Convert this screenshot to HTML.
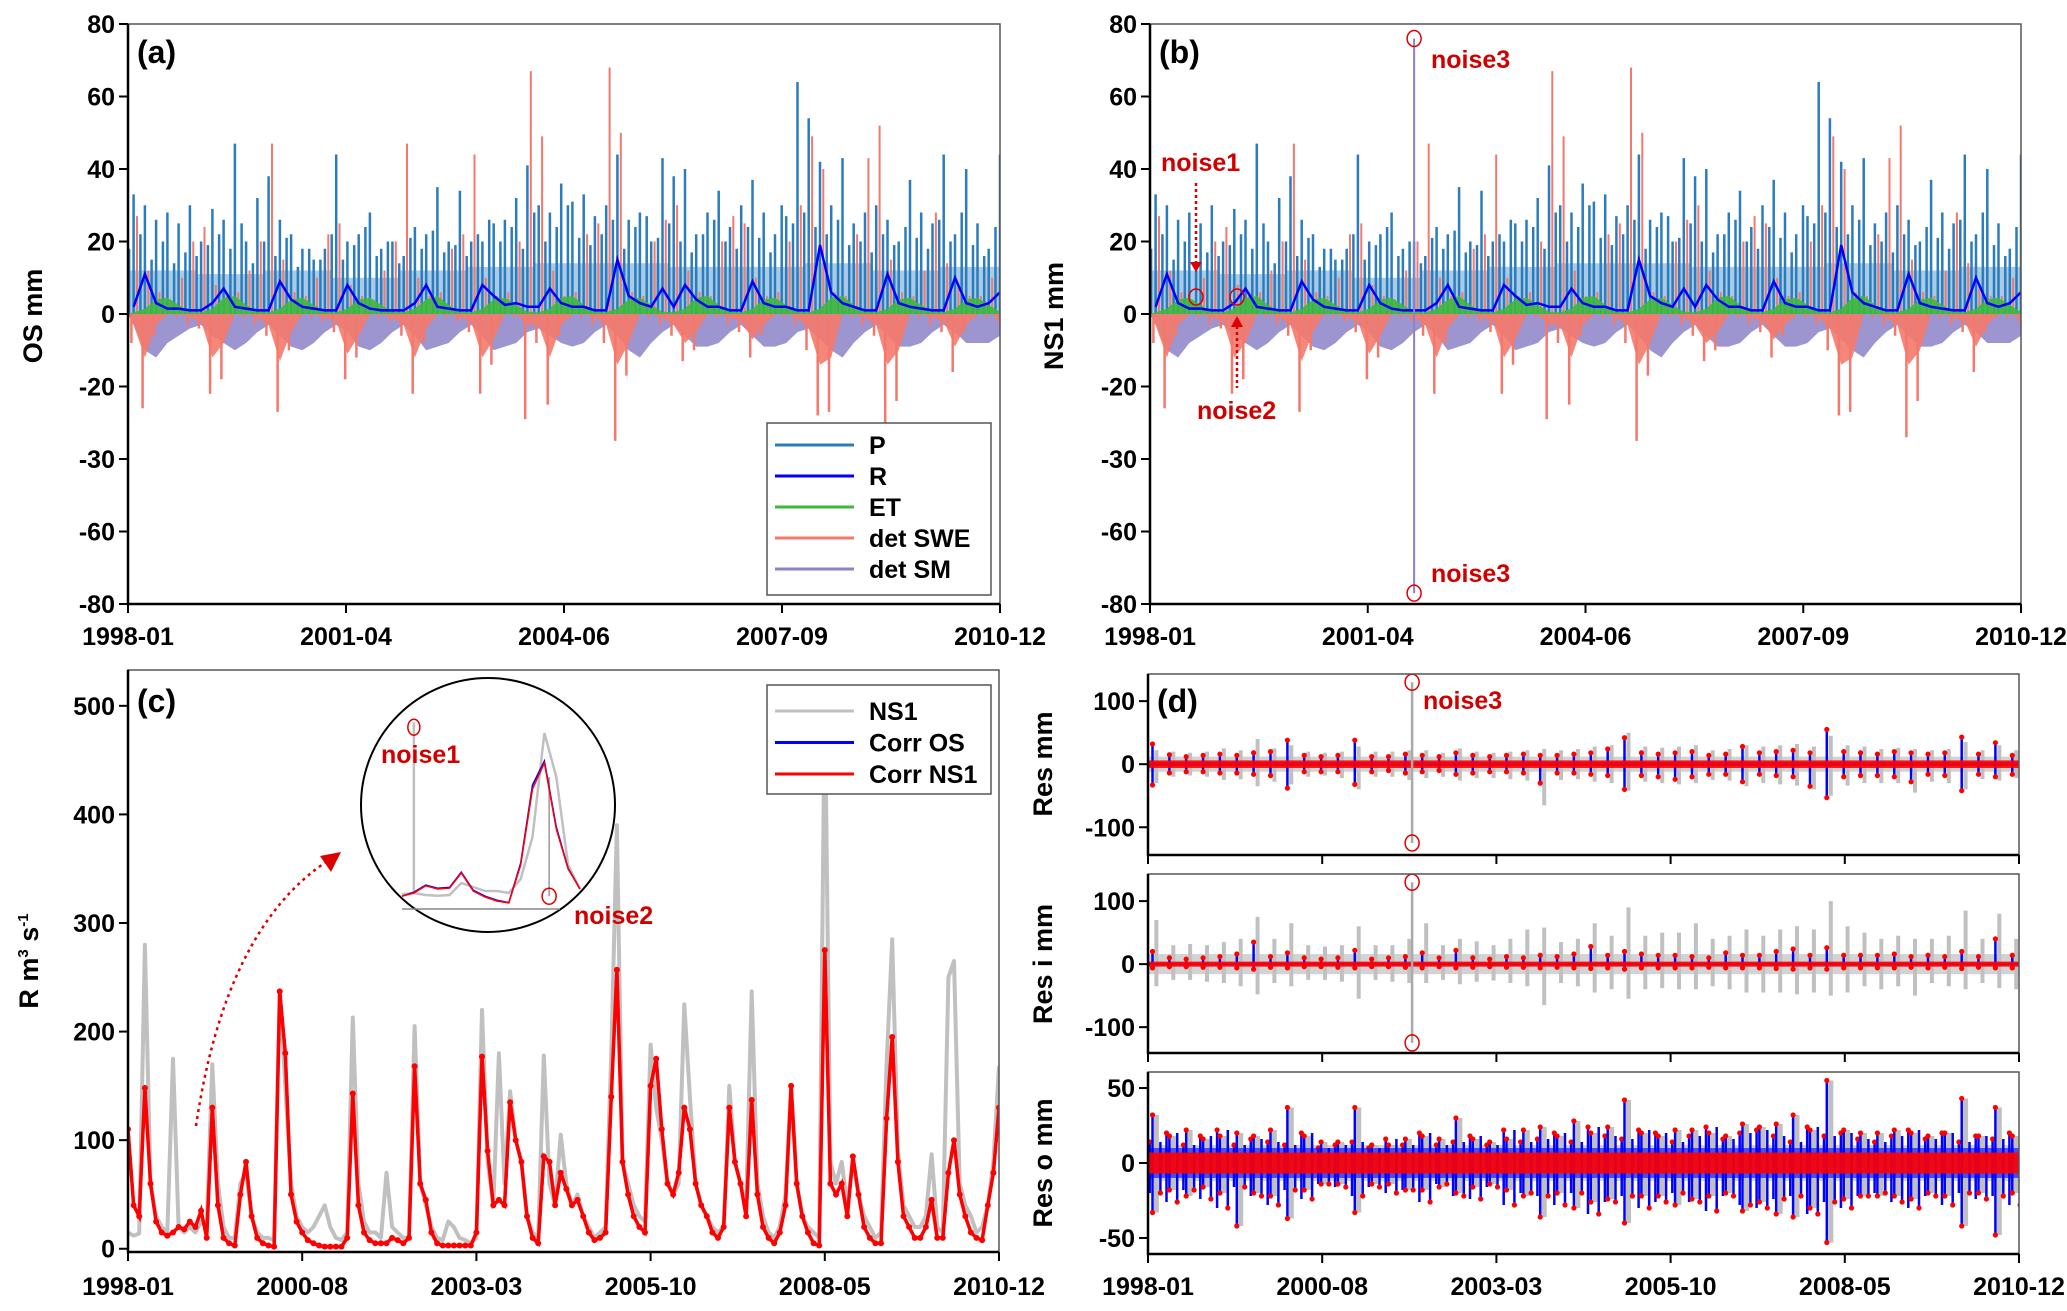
<!DOCTYPE html>
<html><head><meta charset="utf-8">
<style>
html,body{margin:0;padding:0;background:#fff;}
svg{display:block;font-family:"Liberation Sans",Arial,sans-serif;font-weight:bold;}
</style></head>
<body>
<svg id="fig" xmlns="http://www.w3.org/2000/svg" width="2067" height="1311" viewBox="0 0 2067 1311">
<rect x="0" y="0" width="2067" height="1311" fill="#fff"/>
</svg>
<script>
// ---- Panel (a)/(b) data: 2-month bins, 1998-01 .. 2010-12 (78 bins) ----
const pMax=[33,30,26,28,25,30, 20,29,26,47,20,32, 38,26,22,18,15,18, 44,20,22,28,18,20, 16,24,22,35,20,34, 20,20,25,26,32,41, 30,28,36,31,33,27, 30,44,26,28,20,43, 38,40,22,28,34,24, 30,37,28,22,27,64, 54,42,30,43,25,28, 30,26,20,37,28,25, 44,22,40,25,18,44];
const pMid=[18,22,15,20,14,17, 16,19,22,18,25,14, 20,16,21,13,18,15, 22,15,19,24,16,20, 14,21,18,23,17,19, 16,22,26,20,24,18, 28,20,24,30,21,19, 22,26,18,24,27,21, 25,20,17,22,26,20, 18,24,21,17,30,25, 28,24,22,26,19,20, 17,22,19,24,21,18, 26,20,28,19,16,24];
const pTyp=[12,11,12,10,12,13,14,14,13,13,14,12,13];
const swePos=[27,12,6,4,10,20, 24,8,5,6,12,20, 47,15,6,5,10,22, 25,8,5,4,12,20, 47,10,5,6,18,22, 44,10,5,6,20,67, 49,12,5,6,22,25, 68,50,6,5,20,26, 30,12,6,5,20,27, 25,10,5,6,20,30, 49,40,6,5,22,43, 52,15,6,5,12,28, 14,8,5,5,10,25];
const sweNeg=[-8,-26,-6,-1,-1,-3, -4,-22,-18,-1,-1,-3, -6,-27,-10,-1,-1,-2, -5,-18,-12,-1,-1,-2, -6,-22,-8,-1,-1,-2, -5,-22,-14,-1,-1,-29, -8,-25,-6,-1,-1,-3, -8,-35,-17,-1,-1,-3, -6,-13,-10,-1,-1,-3, -5,-12,-6,-1,-1,-3, -10,-28,-27,-1,-1,-3, -6,-34,-24,-1,-1,-3, -5,-16,-5,-1,-1,-2];
const sweArea=[-3,-12,-3,0,0,-1, -2,-12,-8,0,0,-1, -3,-13,-5,0,0,-1, -2,-11,-6,0,0,-1, -3,-12,-4,0,0,-1, -2,-12,-7,0,0,-3, -3,-12,-3,0,0,-1, -3,-14,-8,0,0,-1, -3,-8,-5,0,0,-1, -2,-7,-3,0,0,-1, -4,-14,-12,0,0,-1, -3,-14,-10,0,0,-1, -2,-9,-3,0,0,-1];
const smNeg=[-3,-10,-12,-8,-6,-4, -3,-6,-8,-10,-8,-5, -3,-6,-9,-10,-8,-5, -3,-5,-9,-10,-8,-5, -3,-6,-10,-9,-8,-5, -3,-6,-10,-9,-8,-5, -4,-6,-8,-9,-8,-5, -3,-6,-10,-12,-8,-5, -3,-6,-9,-9,-8,-5, -3,-6,-9,-9,-8,-5, -4,-7,-10,-12,-8,-5, -3,-6,-9,-9,-8,-5, -3,-5,-8,-8,-8,-6];
const rVal=[2,11,3,1.5,1.5,1, 1,3,7,2,1.5,1, 1,9,4,2,1.5,1, 1,8,3,1.5,1,1, 1,3,8,2,1.5,1, 1,8,5,2.5,3,2, 2,7,3,2,2,1, 1,15,5,3,2,7, 2,8,4,2,2,1, 1,9,3,2,2,1, 1,19,6,3,2,1, 1,11,3,2,1.5,1, 1,10,3,2,3,6];
const etVal=[0.5,1.5,4,4.5,2.5,0.6, 0.5,1.5,4.5,5,2.5,0.6, 0.5,1.5,4,4.5,2.5,0.6, 0.5,1.5,4,4.5,2.5,0.6, 0.5,1.5,4,5,2.5,0.6, 0.5,1.5,4,4.5,2.5,0.6, 0.5,1.5,4.5,5,2.5,0.6, 0.5,1.5,4,4.5,2.5,0.6, 0.5,1.5,4.5,5,2.5,0.6, 0.5,1.5,4,4.5,2.5,0.6, 0.5,1.5,4.5,5,2.5,0.6, 0.5,1.5,4,4.5,2.5,0.6, 0.5,1.5,4,4.5,2.5,0.6];
const abYTicks=[80,60,40,20,0,-20,-40,-60,-80];
const abYLabels=["80","60","40","20","0","-20","-30","-60","-80"];
const abXTicks=[0,38.75,77.5,116.25,155];
const abXLabels=["1998-01","2001-04","2004-06","2007-09","2010-12"];
const noise3Month=47;
const noise3Value=[76,-77];

// ---- Panel (c) data: monthly discharge ----
const ns1=[15,12,14,280,60,30,20,15,175,20,15,20, 15,25,20,170,60,20,10,10,60,70,30,15, 10,10,8,237,150,60,30,20,15,20,30,40, 20,10,8,15,213,60,25,15,15,10,70,20, 15,10,10,205,60,40,20,10,8,25,20,10, 8,5,10,220,80,40,180,60,145,100,80,30, 15,10,178,60,40,105,60,40,50,30,20,10, 15,20,180,390,80,60,40,30,25,188,130,100, 60,50,60,225,140,60,40,30,20,15,20,150, 80,60,40,237,60,30,15,10,20,50,150,60, 30,20,15,10,510,80,60,80,40,80,50,30, 20,10,15,170,285,90,40,30,20,20,30,87, 20,15,250,265,60,40,30,15,20,40,80,168];
const corr=[110,40,30,148,60,25,15,12,15,20,18,25, 20,35,10,130,40,10,5,3,50,80,30,10, 5,3,2,237,180,50,25,15,8,5,3,2, 2,2,2,10,143,40,15,8,5,5,5,10, 8,5,10,168,60,45,15,5,3,3,3,3, 3,3,15,177,90,40,45,40,135,100,80,30, 10,5,85,80,40,70,55,40,45,30,15,8, 10,15,140,257,80,50,30,20,15,150,175,110, 60,50,70,130,110,60,40,30,15,10,20,130, 80,60,30,137,50,20,10,5,15,40,150,60, 30,15,5,3,275,60,50,60,30,85,50,20, 10,5,5,120,195,80,30,20,10,10,20,45, 10,10,70,100,50,30,15,10,8,40,70,130];
const cYTicks=[0,100,200,300,400,500];
const cXTicks=[0,31,62,93,124,155];
const cXLabels=["1998-01","2000-08","2003-03","2005-10","2008-05","2010-12"];
const insetNS1=[37,40,35,33,35,65,55,45,45,40,75,180,440,330,110,50];
const insetCorrOS=[32,42,60,52,54,92,47,32,22,16,115,310,370,205,102,50];
const insetCorrNS1=[32,40,58,50,52,90,45,30,20,15,110,300,365,200,100,50];
const insetNoise1=[1,467];
const insetNoise2=[12.4,330,32];

// ---- Panel (d) data: quarterly bins (52) ----
const d1RedHi=[32,15,12,14,16,14,18,20,38,14,12,14,38,12,12,16,14,12,18,14,12,14,16,14,14,16,18,24,42,18,16,18,20,14,16,28,18,20,22,18,55,20,18,16,20,18,16,18,43,16,34,14];
const d1RedLo=[-33,-14,-12,-12,-14,-14,-16,-18,-38,-12,-12,-12,-32,-12,-10,-14,-12,-10,-16,-14,-12,-12,-14,-30,-14,-14,-16,-18,-40,-18,-20,-24,-20,-16,-16,-28,-16,-18,-20,-35,-53,-20,-18,-18,-20,-28,-16,-18,-42,-16,-20,-16];
const d1GrayHi=[22,20,18,20,25,22,40,25,30,20,18,20,28,20,20,22,22,18,25,20,18,20,22,24,22,24,28,30,50,28,26,28,30,22,24,30,28,30,32,28,45,30,28,24,26,24,22,24,35,22,30,22];
const d1GrayLo=[-30,-20,-18,-20,-25,-24,-35,-28,-32,-20,-18,-22,-40,-20,-20,-25,-22,-20,-26,-22,-22,-24,-26,-65,-25,-24,-28,-30,-42,-28,-30,-32,-30,-25,-26,-35,-30,-32,-34,-40,-50,-34,-30,-30,-30,-45,-28,-30,-40,-24,-26,-22];
const d2RedHi=[20,10,8,10,12,16,35,12,18,10,8,10,22,8,10,12,18,10,22,10,8,12,10,14,12,16,28,14,20,16,14,14,12,10,18,14,14,20,24,14,26,14,14,14,16,12,14,12,20,12,40,14];
const d2RedLo=[-6,-4,-4,-5,-5,-6,-8,-5,-6,-4,-4,-5,-6,-4,-4,-5,-6,-4,-6,-5,-4,-5,-5,-6,-5,-6,-7,-6,-8,-6,-6,-6,-6,-5,-6,-6,-6,-7,-8,-6,-8,-6,-6,-6,-6,-5,-6,-5,-7,-5,-6,-6];
const d2GrayHi=[70,30,32,30,35,40,75,40,65,30,28,30,60,30,30,40,65,30,40,36,30,40,55,58,35,40,65,45,90,45,50,50,65,40,45,55,45,55,60,55,100,60,50,40,45,40,40,45,85,40,80,40];
const d2GrayLo=[-35,-25,-25,-28,-30,-35,-48,-30,-35,-25,-25,-28,-55,-25,-28,-30,-30,-25,-32,-28,-26,-30,-35,-65,-30,-35,-45,-40,-55,-40,-38,-40,-40,-35,-40,-45,-45,-45,-48,-45,-50,-45,-35,-40,-35,-50,-30,-35,-40,-30,-38,-40];
const d3Hi=[32,18,22,16,18,20,18,22,37,18,14,14,37,12,12,16,18,16,30,16,14,16,22,24,18,28,20,24,42,20,18,22,22,20,18,26,24,26,32,22,55,22,20,20,22,20,18,20,43,18,37,18];
const d3Lo=[-33,-18,-22,-16,-20,-42,-20,-22,-37,-18,-14,-14,-33,-14,-14,-18,-18,-16,-20,-16,-14,-18,-22,-36,-20,-30,-26,-24,-40,-22,-22,-28,-24,-22,-20,-32,-26,-34,-36,-30,-53,-24,-22,-22,-22,-24,-20,-22,-42,-20,-48,-20];
const d3MidHi=[14,20,12,18,22,12,16,14,12,20,10,12,14,10,16,12,20,12,14,18,12,22,14,16,20,14,24,18,16,22,20,14,18,24,16,20,22,18,14,24,18,20,16,14,18,22,16,20,14,18,16,20];
const d3MidLo=[-20,-26,-18,-24,-30,-16,-22,-28,-18,-24,-14,-16,-22,-16,-20,-18,-26,-14,-22,-24,-16,-28,-20,-22,-28,-20,-34,-26,-22,-30,-26,-20,-26,-32,-22,-28,-30,-24,-22,-34,-26,-30,-22,-20,-26,-30,-22,-28,-20,-24,-22,-28];
const dBand=[6,4,7];
const dGrayBand=[12,16,12];
const dBlueBand=[3,2,10];
const d12YTicks=[-100,0,100];
const d3YTicks=[-50,0,50];
const noise3Res=[130,-125];

const NS="http://www.w3.org/2000/svg";
const svg=document.getElementById('fig');
function mk(tag,attrs,parent){const e=document.createElementNS(NS,tag);for(const k in attrs)e.setAttribute(k,attrs[k]);(parent||svg).appendChild(e);return e;}
function txt(s,attrs,parent){const e=mk('text',attrs,parent);e.textContent=s;return e;}
function panel(x0,x1,y0,y1,ymin,ymax,mmax){return {x0,x1,y0,y1,x:m=>x0+(m/mmax)*(x1-x0),y:v=>y0+(ymax-v)/(ymax-ymin)*(y1-y0)};}
function clip(p,id){const c=mk('clipPath',{id:id});mk('rect',{x:p.x0,y:p.y0,width:p.x1-p.x0,height:p.y1-p.y0},c);const g=mk('g',{'clip-path':'url(#'+id+')'});return g;}

function frame(p,name){
  const r=mk('rect',{x:p.x0,y:p.y0,width:p.x1-p.x0,height:p.y1-p.y0,fill:'none',stroke:'#555','stroke-width':1.5});
  
  
  const a=mk('path',{d:`M${p.x0} ${p.y0} V${p.y1} H${p.x1}`,fill:'none',stroke:'#000','stroke-width':2.5});
  
  
}
function yAxis(p,ticks,labels,name){
  ticks.forEach((t,i)=>{
    const yy=p.y(t);
    const l=mk('line',{x1:p.x0-9,x2:p.x0,y1:yy,y2:yy,stroke:'#000','stroke-width':2});
    
    
    const tx=txt(labels[i],{x:p.x0-13,y:yy+9,'text-anchor':'end','font-size':25,fill:'#000'});
    
    
  });
}
function xAxis(p,ticks,labels,name,labelY){
  ticks.forEach((t,i)=>{
    const xx=p.x(t);
    const l=mk('line',{x1:xx,x2:xx,y1:p.y1,y2:p.y1+9,stroke:'#000','stroke-width':2});
    
    
    if(labels){
      const tx=txt(labels[i],{x:xx,y:labelY,'text-anchor':'middle','font-size':25,fill:'#000'});
      
      
    }
  });
}
function yTitle(x,y,s,name){
  const t=txt(s,{x:x,y:y,transform:`rotate(-90 ${x} ${y})`,'text-anchor':'middle','font-size':27,fill:'#000'});
  
  
  return t;
}
function spikePath(vals,xs,p,base){let d='';vals.forEach((v,i)=>{d+=`M${p.x(xs(i)).toFixed(1)} ${p.y(base).toFixed(1)}V${p.y(v).toFixed(1)}`;});return d;}
function rangePath(hi,lo,xs,p){let d='';hi.forEach((v,i)=>{d+=`M${p.x(xs(i)).toFixed(1)} ${p.y(lo[i]).toFixed(1)}V${p.y(v).toFixed(1)}`;});return d;}
function areaPath(vals,xs,p,base,mmax){let d=`M${p.x(0)} ${p.y(base)}`;vals.forEach((v,i)=>{d+=`L${p.x(xs(i)).toFixed(1)} ${p.y(v).toFixed(1)}`;});d+=`L${p.x(mmax)} ${p.y(base)}Z`;return d;}
function linePath(vals,xs,p){return vals.map((v,i)=>(i?'L':'M')+p.x(xs(i)).toFixed(1)+' '+p.y(v).toFixed(1)).join('');}
function dotsPath(vals,xs,p,r){let d='';vals.forEach((v,i)=>{const cx=p.x(xs(i)),cy=p.y(v);d+=`M${(cx-r).toFixed(1)} ${cy.toFixed(1)}a${r} ${r} 0 1 0 ${2*r} 0a${r} ${r} 0 1 0 ${-2*r} 0`;});return d;}

const C={P:'#2a7cbf',R:'#0000ff',ET:'#3db83d',SWE:'#f4796c',SM:'#8c82c8',G:'#c0c0c0',RED:'#ff0000'};
const bin2=i=>2*i+1;
const mon=i=>i;
const q=i=>3*i+1.5;

function drawAB(p,id,name){
  const g=clip(p,id);
  let e;
  let d='';pTyp.forEach((v,i)=>{d+=`M${p.x(12*i)} ${p.y(0)}V${p.y(v)}H${p.x(12*i+12)}V${p.y(0)}Z`;});
  e=mk('path',{d:d,fill:C.P,opacity:0.4},g);
  
  
  e=mk('path',{d:spikePath(pMid,i=>2*i+0.2,p,0),stroke:C.P,'stroke-width':2.5,fill:'none'},g);
  
  
  e=mk('path',{d:spikePath(pMax,bin2,p,0),stroke:C.P,'stroke-width':2.5,fill:'none'},g);
  
  
  e=mk('path',{d:spikePath(swePos,i=>2*i+1.6,p,0),stroke:C.SWE,'stroke-width':2,fill:'none'},g);
  
  
  e=mk('path',{d:areaPath(smNeg,bin2,p,0,155),fill:C.SM,opacity:0.85},g);
  
  
  e=mk('path',{d:areaPath(sweArea,bin2,p,0,155),fill:C.SWE,opacity:0.9},g);
  
  
  e=mk('path',{d:spikePath(sweNeg,i=>2*i+0.6,p,0),stroke:C.SWE,'stroke-width':2.5,fill:'none'},g);
  
  
  e=mk('path',{d:areaPath(etVal,bin2,p,0,155),fill:C.ET,opacity:0.9},g);
  
  
  e=mk('path',{d:linePath(rVal,bin2,p),stroke:C.R,'stroke-width':2.5,fill:'none'},g);
  
  
  frame(p,name);
  yAxis(p,abYTicks,abYLabels,name);
  xAxis(p,abXTicks,abXLabels,name,645);
}

const pa=panel(128,1000,24,604,-80,80,155);
drawAB(pa,'clipA','panel-a');
yTitle(42,316,'OS mm','panel-a-y-axis-title');
let t=txt('(a)',{x:137,y:63,'font-size':32,fill:'#000'});

const legA=mk('g',{});


mk('rect',{x:767,y:423,width:224,height:172,fill:'#fff',stroke:'#555','stroke-width':1.5},legA);
[['P',C.P],['R',C.R],['ET',C.ET],['det SWE',C.SWE],['det SM',C.SM]].forEach((it,i)=>{
  const yy=445+i*31;
  const l=mk('line',{x1:775,x2:854,y1:yy,y2:yy,stroke:it[1],'stroke-width':3},legA);
  
  
  const tx=txt(it[0],{x:869,y:yy+9,'font-size':25,fill:'#000'},legA);
  
  
});

const pb=panel(1150,2021,24,604,-80,80,155);
drawAB(pb,'clipB','panel-b');
yTitle(1063,316,'NS1 mm','panel-b-y-axis-title');
t=txt('(b)',{x:1159,y:63,'font-size':32,fill:'#000'});

let e=mk('line',{x1:pb.x(noise3Month),x2:pb.x(noise3Month),y1:pb.y(noise3Value[0]),y2:pb.y(noise3Value[1]),stroke:C.SM,'stroke-width':2});

[0,1].forEach(k=>{
  const c=mk('ellipse',{cx:pb.x(noise3Month),cy:pb.y(noise3Value[k]),rx:7,ry:8,fill:'none',stroke:'#d00','stroke-width':1.5});
  
});
t=txt('noise3',{x:1431,y:68,'font-size':25,fill:'#d00000'});
t=txt('noise3',{x:1431,y:582,'font-size':25,fill:'#d00000'});
t=txt('noise1',{x:1161,y:171,'font-size':25,fill:'#d00000'});
t=txt('noise2',{x:1197,y:419,'font-size':25,fill:'#d00000'});
e=mk('path',{d:'M1196 183V262',stroke:'#d00','stroke-width':2.5,'stroke-dasharray':'3 3',fill:'none'});
e=mk('path',{d:'M1190 262H1202L1196 272Z',fill:'#d00'});
e=mk('ellipse',{cx:1196,cy:297,rx:7,ry:8,fill:'none',stroke:'#d00','stroke-width':1.5});
e=mk('path',{d:'M1237 326V388',stroke:'#d00','stroke-width':2.5,'stroke-dasharray':'3 3',fill:'none'});
e=mk('path',{d:'M1231 327H1243L1237 316Z',fill:'#d00'});
e=mk('ellipse',{cx:1237,cy:297,rx:7,ry:8,fill:'none',stroke:'#d00','stroke-width':1.5});

const pc=panel(128,999,670,1252,-3,533,155);
const gc=clip(pc,'clipC');
e=mk('path',{d:linePath(ns1,mon,pc),stroke:C.G,'stroke-width':4,fill:'none','stroke-linejoin':'round'},gc);

e=mk('path',{d:linePath(corr,i=>i+0.1,pc),stroke:C.R,'stroke-width':2,fill:'none'},gc);

e=mk('path',{d:linePath(corr,mon,pc),stroke:C.RED,'stroke-width':3.5,fill:'none'},gc);

e=mk('path',{d:dotsPath(corr,mon,pc,3),fill:C.RED},gc);

frame(pc,'panel-c');
yAxis(pc,cYTicks,cYTicks.map(String),'panel-c');
xAxis(pc,cXTicks,cXLabels,'panel-c',1295);
t=txt('(c)',{x:137,y:712,'font-size':32,fill:'#000'});
t=txt('',{x:38,y:961,transform:'rotate(-90 38 961)','text-anchor':'middle','font-size':27,fill:'#000'});

t.innerHTML='R m<tspan dy="-10" font-size="15">3</tspan><tspan dy="10"> s</tspan><tspan dy="-10" font-size="15">-1</tspan>';
const legC=mk('g',{});

mk('rect',{x:767,y:685,width:224,height:109,fill:'#fff',stroke:'#555','stroke-width':1.5},legC);
[['NS1',C.G],['Corr OS',C.R],['Corr NS1',C.RED]].forEach((it,i)=>{
  const yy=711+i*31.5;
  const l=mk('line',{x1:775,x2:854,y1:yy,y2:yy,stroke:it[1],'stroke-width':3},legC);
  
  const tx=txt(it[0],{x:869,y:yy+9,'font-size':25,fill:'#000'},legC);
  
});
e=mk('circle',{cx:488,cy:805,r:127,fill:'#fff',stroke:'#000','stroke-width':2});

const ip={x0:402,x1:580,y0:700,y1:909,x:i=>402+i*(178/15),y:v=>909-v*0.4};
e=mk('line',{x1:402,x2:560,y1:909,y2:909,stroke:'#888','stroke-width':1.5});

e=mk('path',{d:linePath(insetNS1,i=>i,ip),stroke:C.G,'stroke-width':2.5,fill:'none'});

e=mk('line',{x1:ip.x(insetNoise1[0]),x2:ip.x(insetNoise1[0]),y1:ip.y(insetNS1[1]),y2:ip.y(insetNoise1[1]),stroke:C.G,'stroke-width':2.5});

e=mk('line',{x1:ip.x(insetNoise2[0]),x2:ip.x(insetNoise2[0]),y1:ip.y(insetNoise2[1]),y2:ip.y(insetNoise2[2]),stroke:'#999','stroke-width':1.5});

e=mk('path',{d:linePath(insetCorrOS,i=>i,ip),stroke:C.R,'stroke-width':1.5,fill:'none'});

e=mk('path',{d:linePath(insetCorrNS1,i=>i,ip),stroke:C.RED,'stroke-width':1.5,fill:'none'});

e=mk('ellipse',{cx:ip.x(insetNoise1[0]),cy:ip.y(insetNoise1[1])+5,rx:6,ry:8,fill:'none',stroke:'#d00','stroke-width':1.5});

e=mk('ellipse',{cx:ip.x(insetNoise2[0]),cy:ip.y(insetNoise2[2]),rx:7,ry:8,fill:'none',stroke:'#d00','stroke-width':1.5});

t=txt('noise1',{x:381,y:763,'font-size':25,fill:'#d00000'});
t=txt('noise2',{x:574,y:924,'font-size':25,fill:'#d00000'});
e=mk('path',{d:'M196 1126 Q225 930 326 862',stroke:'#d00','stroke-width':2.5,'stroke-dasharray':'3 4',fill:'none'});

e=mk('path',{d:'M341 852L320 856L331 872Z',fill:'#d00'});


const pd=[panel(1148,2019,674,855,-144,143,155),panel(1148,2019,874,1053,-141,143,155),panel(1148,2019,1072,1254,-60.7,60.7,155)];
const dHi=[d1GrayHi,d2GrayHi,d3Hi],dLo=[d1GrayLo,d2GrayLo,d3Lo];
const rHi=[d1RedHi,d2RedHi,d3Hi],rLo=[d1RedLo,d2RedLo,d3Lo];
const dNames=['panel-d-res','panel-d-res-i','panel-d-res-o'];
pd.forEach((p,k)=>{
  const g=clip(p,'clipD'+k);
  let el;
  el=mk('rect',{x:p.x0,y:p.y(dGrayBand[k]),width:p.x1-p.x0,height:p.y(-dGrayBand[k])-p.y(dGrayBand[k]),fill:C.G,opacity:0.7},g);
  
  el=mk('path',{d:rangePath(dHi[k],dLo[k],q,p),stroke:C.G,'stroke-width':k==2?5:4,fill:'none'},g);
  
  if(k==2){
    el=mk('path',{d:rangePath(d3MidHi,d3MidLo,i=>3*i+0.3,p)+rangePath(d3MidHi,d3MidLo,i=>3*i+2.2,p),stroke:C.R,'stroke-width':2.5,fill:'none'},g);
    
    el=mk('path',{d:dotsPath(d3MidHi,i=>3*i+0.3,p,2.6)+dotsPath(d3MidLo,i=>3*i+2.2,p,2.6),fill:C.RED},g);
    
  }
  el=mk('rect',{x:p.x0,y:p.y(dBlueBand[k]),width:p.x1-p.x0,height:p.y(-dBlueBand[k])-p.y(dBlueBand[k]),fill:C.R,opacity:k==2?0.6:0.8},g);
  
  el=mk('path',{d:rangePath(rHi[k],rLo[k],i=>3*i+0.8,p),stroke:C.R,'stroke-width':2.5,fill:'none'},g);
  
  el=mk('rect',{x:p.x0,y:p.y(dBand[k]),width:p.x1-p.x0,height:p.y(-dBand[k])-p.y(dBand[k]),fill:C.RED,opacity:0.9},g);
  
  el=mk('path',{d:dotsPath(rHi[k],i=>3*i+0.8,p,2.6)+dotsPath(rLo[k],i=>3*i+0.8,p,2.6),fill:C.RED},g);
  
  if(k<2){
    el=mk('line',{x1:p.x(noise3Month),x2:p.x(noise3Month),y1:p.y(noise3Res[0]),y2:p.y(noise3Res[1]),stroke:'#aaa','stroke-width':2.5});
    
    [0,1].forEach(j=>{
      const c=mk('ellipse',{cx:p.x(noise3Month),cy:p.y(noise3Res[j]),rx:7,ry:8,fill:'none',stroke:'#d00','stroke-width':1.5});
      
    });
  }
  frame(p,dNames[k]);
  yAxis(p,k<2?d12YTicks:d3YTicks,(k<2?d12YTicks:d3YTicks).map(String),dNames[k]);
  xAxis(p,cXTicks,k==2?cXLabels:null,dNames[k],1295);
});
yTitle(1052,764,'Res mm','panel-d-res-y-axis-title');
yTitle(1052,964,'Res i mm','panel-d-res-i-y-axis-title');
yTitle(1052,1163,'Res o mm','panel-d-res-o-y-axis-title');
t=txt('(d)',{x:1157,y:712,'font-size':32,fill:'#000'});
t=txt('noise3',{x:1423,y:709,'font-size':25,fill:'#d00000'});
</script>
</body></html>
